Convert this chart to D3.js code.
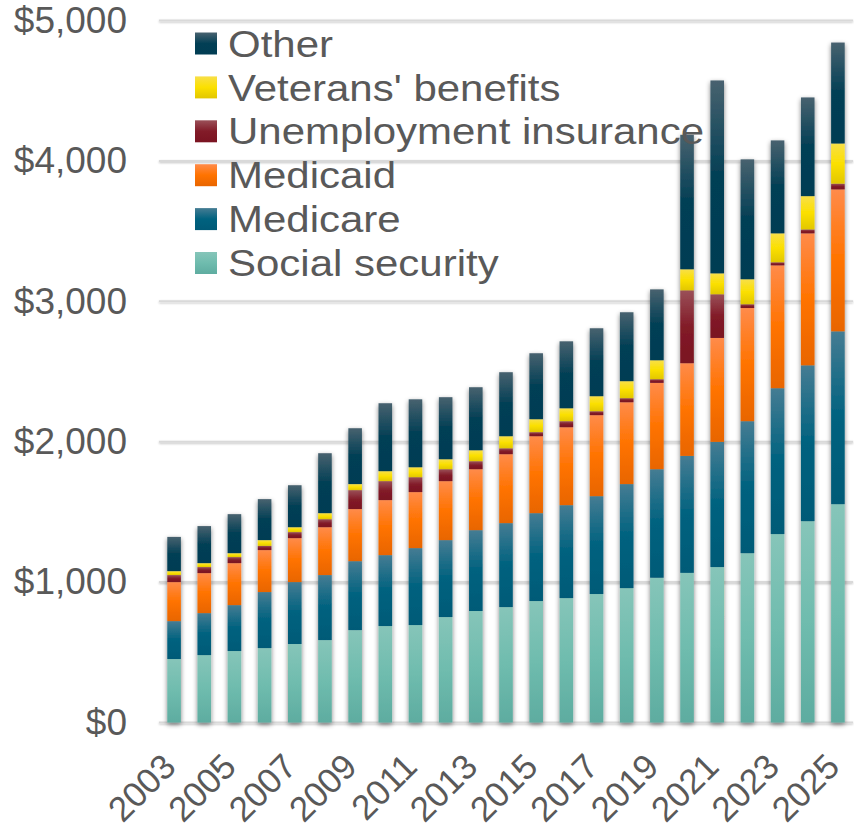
<!DOCTYPE html>
<html>
<head>
<meta charset="utf-8">
<script src="https://cdn.jsdelivr.net/npm/d3@7"></script>
<style>
  html, body { margin: 0; padding: 0; background: #ffffff; }
  svg { display: block; }
  text { font-family: "Liberation Sans", Arial, sans-serif; fill: #595959; }
</style>
</head>
<body>
<svg id="chart" width="854" height="834"></svg>
<script>
// Federal spending by program, billions of dollars
const years = ["2003","2004","2005","2006","2007","2008","2009","2010","2011","2012","2013","2014",
               "2015","2016","2017","2018","2019","2020","2021","2022","2023","2024","2025"];

const socialSecurity = [452, 480, 509, 530, 559, 587, 658, 687, 694, 751, 794, 822,
                        865, 886, 915, 957, 1031, 1066, 1107, 1206, 1342, 1434, 1555];
const medicare       = [270, 299, 327, 399, 441, 463, 491, 505, 548, 548, 576, 598,
                        626, 662, 697, 741, 773, 833, 892, 940, 1039, 1110, 1231];
const medicaid       = [278, 285, 299, 299, 313, 341, 371, 392, 399, 420, 434, 491,
                        548, 555, 577, 583, 615, 660, 740, 806, 875, 940, 1011];
const unemployment   = [50, 43, 43, 30, 43, 57, 135, 135, 106, 85, 57, 42,
                        29, 43, 28, 29, 26, 519, 311, 27, 22, 28, 41];
const veterans       = [28, 28, 28, 41, 35, 43, 43, 71, 71, 71, 78, 86,
                        92, 92, 107, 121, 135, 150, 149, 178, 206, 237, 286];
const other          = [244, 264, 278, 292, 299, 427, 398, 484, 484, 442, 449, 456,
                        470, 477, 484, 491, 505, 958, 1374, 854, 662, 703, 719];

const yTicks = [0, 1000, 2000, 3000, 4000, 5000];

// Series in stacking order (bottom to top), with gradient stops: top, middle, bottom
const series = [
  { key: "ss",    name: "Social security",        values: socialSecurity, stops: ["#86c5b9", "#6fbcae", "#5eaca0"] },
  { key: "mcare", name: "Medicare",               values: medicare,       stops: ["#457c93", "#00627f", "#005a77"] },
  { key: "mcaid", name: "Medicaid",               values: medicaid,       stops: ["#ff8b4a", "#ff7300", "#e86500"] },
  { key: "unemp", name: "Unemployment insurance", values: unemployment,   stops: ["#9a5058", "#821b28", "#7a1321"] },
  { key: "vet",   name: "Veterans' benefits",     values: veterans,       stops: ["#f8df48", "#fbe000", "#e2c700"] },
  { key: "other", name: "Other",                  values: other,          stops: ["#48626f", "#023f55", "#013d53"] }
];

const rows = years.map((yr, i) => {
  const r = { year: yr };
  series.forEach(s => { r[s.key] = s.values[i]; });
  return r;
});

const svg = d3.select("#chart");
const plotLeft = 159, plotRight = 853, plotTop = 20.5, plotBottom = 722.5;

const x = d3.scaleBand().domain(years).range([plotLeft, plotRight]).paddingInner(0.55).paddingOuter(0.275);
const y = d3.scaleLinear().domain([0, 5000]).range([plotBottom, plotTop]);

const defs = svg.append("defs");

// soft drop shadow used by bars
const shadow = defs.append("filter").attr("id", "shadow")
  .attr("x", "-80%").attr("y", "-20%").attr("width", "260%").attr("height", "140%");
shadow.append("feGaussianBlur").attr("in", "SourceAlpha").attr("stdDeviation", 2.6).attr("result", "blur");
shadow.append("feOffset").attr("in", "blur").attr("dx", 0).attr("dy", 2).attr("result", "off");
shadow.append("feComponentTransfer").attr("in", "off").attr("result", "soft")
  .append("feFuncA").attr("type", "linear").attr("slope", 0.5);
const merge = shadow.append("feMerge");
merge.append("feMergeNode").attr("in", "soft");
merge.append("feMergeNode").attr("in", "SourceGraphic");

// lighter shadow for grid lines
const gridShadow = defs.append("filter").attr("id", "gridShadow")
  .attr("filterUnits", "userSpaceOnUse")
  .attr("x", 0).attr("y", 0).attr("width", 854).attr("height", 834);
gridShadow.append("feGaussianBlur").attr("in", "SourceAlpha").attr("stdDeviation", 1.3).attr("result", "blur");
gridShadow.append("feOffset").attr("in", "blur").attr("dx", 0).attr("dy", 1.2).attr("result", "off");
gridShadow.append("feComponentTransfer").attr("in", "off").attr("result", "soft")
  .append("feFuncA").attr("type", "linear").attr("slope", 0.25);
const gm = gridShadow.append("feMerge");
gm.append("feMergeNode").attr("in", "soft");
gm.append("feMergeNode").attr("in", "SourceGraphic");

series.forEach(s => {
  const g = defs.append("linearGradient").attr("id", "grad-" + s.key)
    .attr("x1", 0).attr("y1", 0).attr("x2", 0).attr("y2", 1);
  g.append("stop").attr("offset", "0%").attr("stop-color", s.stops[0]);
  g.append("stop").attr("offset", "50%").attr("stop-color", s.stops[1]);
  g.append("stop").attr("offset", "100%").attr("stop-color", s.stops[2]);
});

// horizontal grid lines
const grid = svg.append("g").attr("filter", "url(#gridShadow)");
grid.selectAll("line").data(yTicks).join("line")
  .attr("x1", plotLeft).attr("x2", plotRight)
  .attr("y1", d => y(d)).attr("y2", d => y(d))
  .attr("stroke", "#d9d9d9").attr("stroke-width", 2);

// y-axis labels
const yAxis = d3.axisLeft(y).tickValues(yTicks).tickSize(0).tickPadding(0)
  .tickFormat(d => "$" + d3.format(",")(d));
const yg = svg.append("g").attr("transform", `translate(${plotLeft - 32},0)`).call(yAxis);
yg.select(".domain").remove();
yg.selectAll("text").attr("font-size", 37).attr("fill", "#595959")
  .style("font-family", '"Liberation Sans", Arial, sans-serif');

// stacked bars
const stack = d3.stack().keys(series.map(s => s.key));
const stacked = stack(rows);

const barGroups = svg.append("g").selectAll("g.bar").data(years).join("g")
  .attr("class", "bar").attr("filter", "url(#shadow)");

barGroups.each(function(yr, i) {
  const g = d3.select(this);
  stacked.forEach((layer, li) => {
    const d = layer[i];
    g.append("rect")
      .attr("x", x(yr))
      .attr("width", x.bandwidth())
      .attr("y", y(d[1]))
      .attr("height", y(d[0]) - y(d[1]))
      .attr("fill", `url(#grad-${series[li].key})`);
  });
});

// x-axis labels, every other year
const xAxis = d3.axisBottom(x).tickValues(years.filter((d, i) => i % 2 === 0)).tickSize(0).tickPadding(0);
const xg = svg.append("g").call(xAxis);
xg.select(".domain").remove();
xg.selectAll(".tick").attr("transform", d => `translate(${x(d) + x.bandwidth() / 2 - 5},760)`);
xg.selectAll("text")
  .attr("font-size", 35).attr("fill", "#595959")
  .style("font-family", '"Liberation Sans", Arial, sans-serif')
  .attr("text-anchor", "end").attr("x", 0).attr("y", 0).attr("dy", "0.35em")
  .attr("transform", "rotate(-45)");

// legend, top series first; labels are set slightly wide
const legend = svg.append("g");
const legendItems = series.slice().reverse();
const item = legend.selectAll("g").data(legendItems).join("g")
  .attr("transform", (d, i) => `translate(195,${43.5 + i * 43.9})`);
item.append("rect").attr("x", 0).attr("y", -11).attr("width", 22).attr("height", 22)
  .attr("fill", d => `url(#grad-${d.key})`);
item.append("text").attr("transform", "translate(33,0) scale(1.12,1)")
  .attr("x", 0).attr("y", 0).attr("dy", "0.35em")
  .attr("font-size", 37.5).text(d => d.name);
</script>
</body>
</html>
